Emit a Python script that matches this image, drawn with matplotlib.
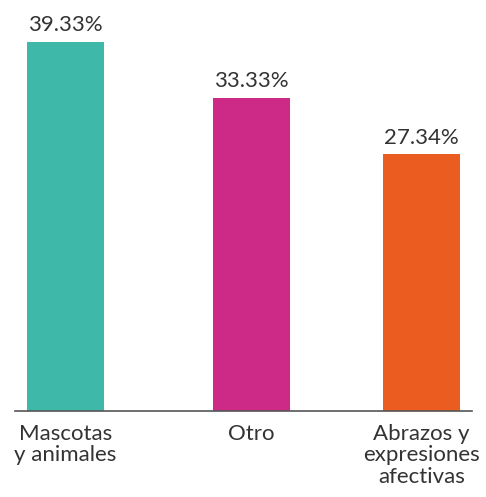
import matplotlib
matplotlib.use('Agg')
import matplotlib.pyplot as plt

# data
categories = ['Mascotas\ny animales', 'Otro', 'Abrazos y\nexpresiones\nafectivas']
values = [39.33, 33.33, 27.34]
labels = ['39.33%', '33.33%', '27.34%']
colors = ['#3db8a9', '#cc2a86', '#eb5c20']
positions = [0, 186, 356]

plt.rcParams['font.family'] = ['Lato', 'DejaVu Sans']

fig = plt.figure(figsize=(4.86, 4.97), dpi=100)
ax = fig.add_axes([15/486, 86/497, 457/486, 369/497])

ax.bar(positions, values, width=77, color=colors)
ax.set_xlim(-50.5, 406.5)
ax.set_ylim(0, 39.33)

for x, v, lab in zip(positions, values, labels):
    ax.annotate(lab, (x, v), xytext=(0, 5), textcoords='offset points',
                ha='center', va='bottom', fontsize=16, color='#333333',
                annotation_clip=False)

ax.set_xticks(positions)
ax.set_xticklabels(categories, fontsize=16, color='#333333',
                   linespacing=1.1)
ax.tick_params(axis='x', length=0, pad=9)
ax.set_yticks([])
for s in ['top', 'right', 'left']:
    ax.spines[s].set_visible(False)
ax.spines['bottom'].set_color('#555555')
ax.spines['bottom'].set_linewidth(1.2)

fig.savefig('out.png', dpi=100)
